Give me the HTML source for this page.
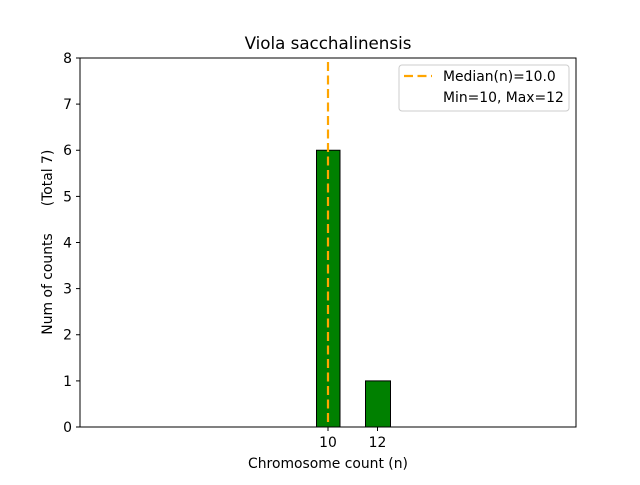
<!DOCTYPE html>
<html><head><style>body{margin:0;background:#fff}</style></head><body>
<svg width="640" height="480" xmlns="http://www.w3.org/2000/svg" font-family="DejaVu Sans, Liberation Sans, sans-serif">
<rect width="640" height="480" fill="#fff"/>
<text x="328" y="49" font-size="16.7" text-anchor="middle">Viola sacchalinensis</text>
<line x1="80" y1="427" x2="464" y2="427" stroke="#bbb" stroke-width="1"/>
<rect x="316.5" y="150.25" width="23.5" height="276.75" fill="#008000" stroke="#000" stroke-width="1"/>
<rect x="365.5" y="380.9" width="25" height="46.1" fill="#008000" stroke="#000" stroke-width="1"/>
<line x1="328" y1="62" x2="328" y2="427" stroke="#ffa500" stroke-width="2.2" stroke-dasharray="9,4.5"/>
<rect x="80" y="58" width="496" height="369" fill="none" stroke="#000" stroke-width="1"/>
<g font-size="13.9" text-anchor="end" stroke="none">
<g stroke="#000"><line x1="76" y1="427" x2="80" y2="427"/><line x1="76" y1="380.9" x2="80" y2="380.9"/><line x1="76" y1="334.75" x2="80" y2="334.75"/><line x1="76" y1="288.6" x2="80" y2="288.6"/><line x1="76" y1="242.5" x2="80" y2="242.5"/><line x1="76" y1="196.4" x2="80" y2="196.4"/><line x1="76" y1="150.25" x2="80" y2="150.25"/><line x1="76" y1="104.1" x2="80" y2="104.1"/><line x1="76" y1="58" x2="80" y2="58"/>
<line x1="328" y1="427" x2="328" y2="431"/><line x1="377.5" y1="427" x2="377.5" y2="431"/></g>
<text x="72" y="432">0</text><text x="72" y="385.9">1</text><text x="72" y="339.7">2</text><text x="72" y="293.6">3</text><text x="72" y="247.5">4</text><text x="72" y="201.4">5</text><text x="72" y="155.2">6</text><text x="72" y="109.1">7</text><text x="72" y="63">8</text>
</g>
<g font-size="13.9" text-anchor="middle">
<text x="328" y="447">10</text><text x="377.5" y="447">12</text>
<text x="328" y="468">Chromosome count (n)</text>
<text transform="translate(52,284) rotate(-90)">Num of counts</text>
<text transform="translate(52,178) rotate(-90)">(Total 7)</text>
</g>
<rect x="399" y="65" width="170" height="46" rx="3" fill="#fff" fill-opacity="0.8" stroke="#ccc" stroke-width="1"/>
<line x1="404" y1="76" x2="432" y2="76" stroke="#ffa500" stroke-width="2.2" stroke-dasharray="9,4.5"/>
<g font-size="13.9"><text x="443" y="81">Median(n)=10.0</text><text x="443" y="102">Min=10, Max=12</text></g>
</svg>
</body></html>
